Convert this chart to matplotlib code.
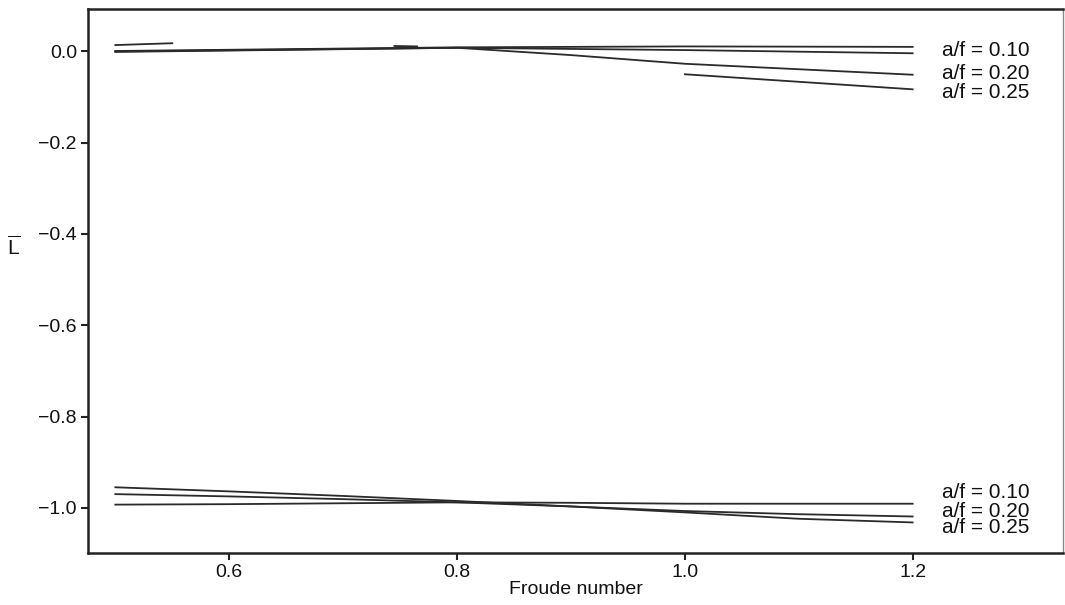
import matplotlib
matplotlib.use("Agg")
import matplotlib.pyplot as plt

plt.rcParams['font.family'] = ['Liberation Sans', 'DejaVu Sans']
plt.rcParams['mathtext.fontset'] = 'custom'
plt.rcParams['mathtext.rm'] = 'Liberation Sans'
plt.rcParams['mathtext.it'] = 'Liberation Sans'

# Upper group (lift coefficient near zero)
up_x_010 = [0.50, 0.80, 1.00, 1.20]
up_y_010 = [0.001, 0.009, 0.011, 0.010]
up_x_015 = [0.50, 0.80, 1.00, 1.20]
up_y_015 = [0.000, 0.008, 0.003, -0.004]
up_x_020 = [0.50, 0.80, 0.90, 1.00, 1.20]
up_y_020 = [-0.001, 0.008, -0.008, -0.027, -0.051]
up_x_025 = [1.00, 1.20]
up_y_025 = [-0.050, -0.083]
up_x_short = [0.50, 0.55]
up_y_short = [0.014, 0.018]
up_x_bump = [0.745, 0.765]
up_y_bump = [0.012, 0.011]

# Lower group (lift coefficient near -1)
lo_x = [0.50, 0.60, 0.70, 0.80, 0.90, 1.00, 1.10, 1.20]
lo_y_010 = [-0.993, -0.992, -0.990, -0.988, -0.989, -0.991, -0.991, -0.991]
lo_y_020 = [-0.970, -0.975, -0.981, -0.988, -0.997, -1.007, -1.014, -1.019]
lo_y_025 = [-0.955, -0.964, -0.974, -0.985, -0.997, -1.010, -1.024, -1.032]

labels = ["a/f = 0.10", "a/f = 0.20", "a/f = 0.25"]
upper_label_y = [0.001, -0.049, -0.089]
lower_label_y = [-0.967, -1.007, -1.044]

x_ticks = [0.6, 0.8, 1.0, 1.2]
y_ticks = [0.0, -0.2, -0.4, -0.6, -0.8, -1.0]

fig = plt.figure(figsize=(10.65, 6.05), dpi=100)
ax = fig.add_axes([88 / 1065, 1 - 553 / 605, 975 / 1065, (553 - 9) / 605])

lc = '#2a2a2a'
lw = 1.3
for xs, ys in [(up_x_010, up_y_010), (up_x_015, up_y_015), (up_x_020, up_y_020),
               (up_x_025, up_y_025), (up_x_short, up_y_short), (up_x_bump, up_y_bump)]:
    ax.plot(xs, ys, color=lc, lw=lw)
for ys in (lo_y_010, lo_y_020, lo_y_025):
    ax.plot(lo_x, ys, color=lc, lw=lw)

for txt, y in zip(labels, upper_label_y):
    ax.text(1.226, y, txt, fontsize=15, va='center', ha='left', color='#111111')
for txt, y in zip(labels, lower_label_y):
    ax.text(1.226, y, txt, fontsize=15, va='center', ha='left', color='#111111')

ax.set_xlim(0.476, 1.332)
ax.set_ylim(-1.099, 0.093)
ax.set_xticks(x_ticks)
ax.set_xticklabels([f"{t:.1f}" for t in x_ticks])
ax.set_yticks(y_ticks)
ax.set_yticklabels([f"{t:.1f}".replace('-', '\u2212') if t != 0 else "0.0" for t in y_ticks])
ax.tick_params(axis='both', labelsize=14, direction='out', length=5, width=1.5,
               color='#222222', labelcolor='#111111')
ax.tick_params(axis='x', pad=3)
ax.tick_params(axis='y', pad=3)

for s in ax.spines.values():
    s.set_linewidth(1.8)
    s.set_color('#222222')
ax.spines['right'].set_linewidth(1.0)
ax.spines['right'].set_color('#888888')

ax.set_xlabel("Froude number", fontsize=14, labelpad=0, color='#111111')
ax.set_ylabel(r"$\overline{\mathrm{L}}$", fontsize=15, rotation=0, labelpad=6, color='#111111')
ax.yaxis.set_label_coords(-0.076, 0.54)

fig.savefig("out.png", dpi=100)
